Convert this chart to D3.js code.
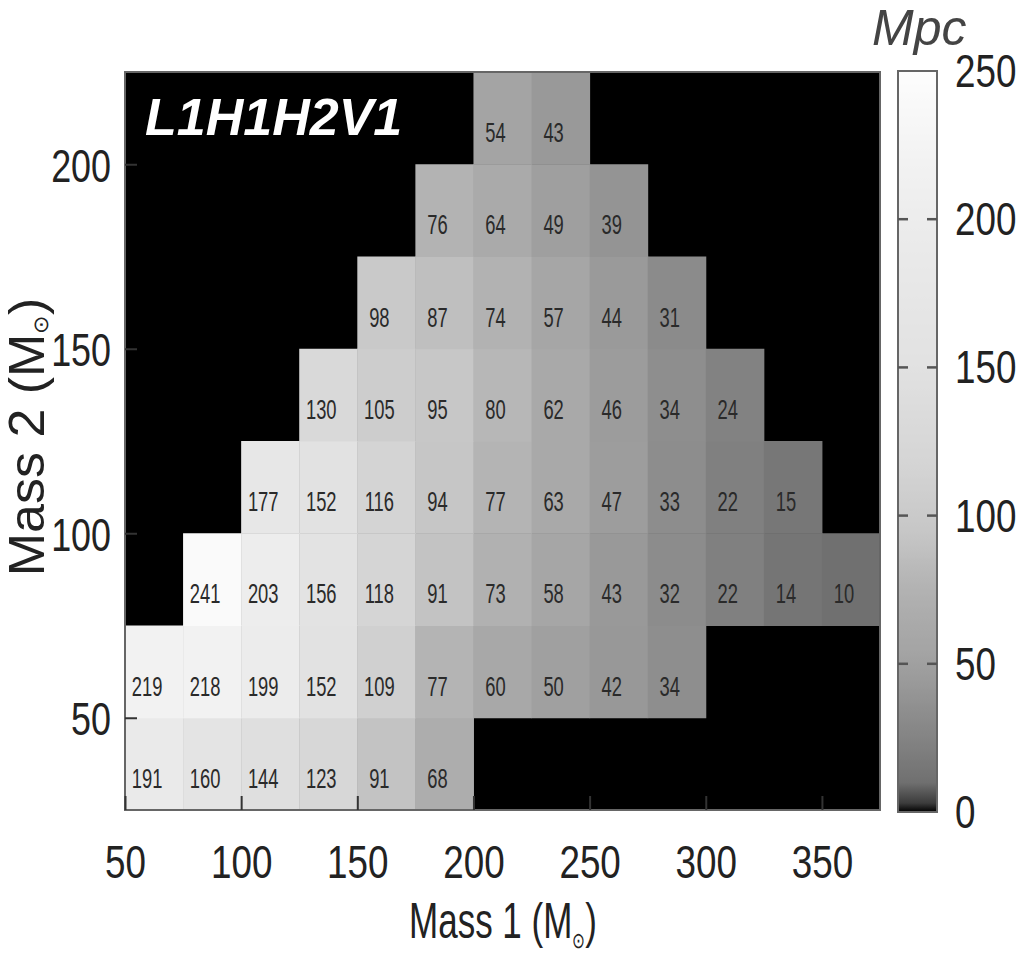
<!DOCTYPE html>
<html><head><meta charset="utf-8">
<script src="https://cdn.jsdelivr.net/npm/d3@7"></script>
<style>body{margin:0;background:#fff} svg{display:block}</style>
</head><body><svg id="c" width="1018" height="953"></svg>
<script>
// ---- data ----
const mass2Rows = [25, 50, 75, 100, 125, 150, 175, 200];      // lower edge of Mass 2 bin
const rowStarts = [50, 50, 75, 100, 125, 150, 175, 200];       // lower edge of first Mass 1 bin in row
const row25  = [191, 160, 144, 123, 91, 68];
const row50  = [219, 218, 199, 152, 109, 77, 60, 50, 42, 34];
const row75  = [241, 203, 156, 118, 91, 73, 58, 43, 32, 22, 14, 10];
const row100 = [177, 152, 116, 94, 77, 63, 47, 33, 22, 15];
const row125 = [130, 105, 95, 80, 62, 46, 34, 24];
const row150 = [98, 87, 74, 57, 44, 31];
const row175 = [76, 64, 49, 39];
const row200 = [54, 43];
const rowValues = [row25, row50, row75, row100, row125, row150, row175, row200];
const binWidth = 25;
const xTicks = [50, 100, 150, 200, 250, 300, 350];
const yTicks = [50, 100, 150, 200];
const cbTicks = [0, 50, 100, 150, 200, 250];
const cbDashTicks = [50, 100, 150, 200];
const chartTitle = "L1H1H2V1";
const unitLabel = "Mpc";

// palette (grey, non-linear)
const palStops = [0, 3, 10, 22, 34, 44, 54, 64, 77, 94, 116, 152, 191, 219, 250];
const palGrey  = [0, 60, 112, 128, 142, 154, 164, 170, 180, 198, 212, 226, 234, 242, 253];

// ---- build cells ----
const cells = [];
rowValues.forEach((vals, i) => {
  vals.forEach((v, j) => {
    cells.push({ m1: rowStarts[i] + j * binWidth, m2: mass2Rows[i], v });
  });
});

const svg = d3.select("#c");
const L = 125, R = 880, T = 72, B = 810;
const x = d3.scaleLinear().domain([50, 375]).range([L, R]);
const y = d3.scaleLinear().domain([25, 225]).range([B, T]);
const greyScale = d3.scaleLinear().domain(palStops).range(palGrey).clamp(true);
const col = v => { const g = Math.round(greyScale(v)); return `rgb(${g},${g},${g})`; };

const SANS = "'Liberation Sans',Arial,Helvetica,sans-serif";

// text with horizontal compression
function sText(parent, px, py, str, size, sx, anchor) {
  return parent.append("text")
    .attr("transform", `translate(${px},${py}) scale(${sx},1)`)
    .attr("text-anchor", anchor || "start")
    .attr("font-family", SANS).attr("font-size", size).attr("fill", "#222")
    .text(str);
}

// plot background
svg.append("rect").attr("x", L).attr("y", T).attr("width", R - L).attr("height", B - T).attr("fill", "#000");

svg.append("g").selectAll("rect").data(cells).join("rect")
  .attr("x", d => x(d.m1)).attr("y", d => y(d.m2 + binWidth))
  .attr("width", d => x(d.m1 + binWidth) - x(d.m1) + 0.5)
  .attr("height", d => y(d.m2) - y(d.m2 + binWidth) + 0.5)
  .attr("fill", d => col(d.v));

svg.append("g").selectAll("text").data(cells).join("text")
  .attr("transform", d => `translate(${x(d.m1 + binWidth / 2) - 7},${y(d.m2 + binWidth / 2) + 24}) scale(0.68,1)`)
  .attr("text-anchor", "middle")
  .attr("font-family", SANS).attr("font-size", 27).attr("fill", "#2a2a2a")
  .text(d => d.v);

// frame
svg.append("rect").attr("x", L).attr("y", T).attr("width", R - L).attr("height", B - T)
  .attr("fill", "none").attr("stroke", "#666").attr("stroke-width", 2);

// ticks (inward)
const xAxis = d3.axisBottom(x).tickValues(xTicks).tickSize(-14).tickFormat(d3.format("d"));
const gx = svg.append("g").attr("transform", `translate(0,${B})`).call(xAxis);
gx.select(".domain").remove();
gx.selectAll("line").attr("stroke", "#333").attr("stroke-width", 2);
gx.selectAll("text")
  .attr("y", null).attr("dy", null)
  .attr("transform", "translate(0,68) scale(0.8,1)")
  .attr("font-family", SANS).attr("font-size", 46).attr("fill", "#222");

const yAxis = d3.axisLeft(y).tickValues(yTicks).tickSize(-12).tickFormat(d3.format("d"));
const gy = svg.append("g").attr("transform", `translate(${L},0)`).call(yAxis);
gy.select(".domain").remove();
gy.selectAll("line").attr("stroke", "#333").attr("stroke-width", 2);
gy.selectAll("text")
  .attr("x", null).attr("dy", null)
  .attr("transform", "translate(-14,17) scale(0.78,1)")
  .attr("font-family", SANS).attr("font-size", 46).attr("fill", "#222");

// axis titles
const xt = sText(svg, 503, 938, "", 50, 0.7, "middle");
xt.append("tspan").text("Mass 1 (M");
xt.append("tspan").attr("font-size", 22).attr("dy", 10).text("⊙");
xt.append("tspan").attr("dy", -10).text(")");

const yt = svg.append("text").attr("transform", "translate(44,437) scale(0.95,1) rotate(-90)")
  .attr("text-anchor", "middle")
  .attr("font-family", SANS).attr("font-size", 52).attr("fill", "#222");
yt.append("tspan").text("Mass 2 (M");
yt.append("tspan").attr("font-size", 22).attr("dy", 4).text("⊙");
yt.append("tspan").attr("dy", -4).text(")");

// title
svg.append("text").attr("x", 145).attr("y", 135)
  .attr("font-family", SANS).attr("font-weight", "bold").attr("font-style", "italic")
  .attr("font-size", 52).attr("fill", "#fff").text(chartTitle);

// colorbar
const CL = 898, CR = 937, CT = 71, CB = 812;
const cy = d3.scaleLinear().domain([0, 250]).range([CB, CT]);
const defs = svg.append("defs");
const grad = defs.append("linearGradient").attr("id", "cbg").attr("x1", 0).attr("y1", 1).attr("x2", 0).attr("y2", 0);
d3.range(0, 251, 1).forEach(v => {
  grad.append("stop").attr("offset", v / 250).attr("stop-color", col(v));
});
svg.append("rect").attr("x", CL).attr("y", CT).attr("width", CR - CL).attr("height", CB - CT)
  .attr("fill", "url(#cbg)").attr("stroke", "#666").attr("stroke-width", 2);
svg.append("g").selectAll("line").data(cbDashTicks).join("line")
  .attr("x1", CL).attr("x2", CL + 10).attr("y1", d => cy(d)).attr("y2", d => cy(d))
  .attr("stroke", "#555").attr("stroke-width", 2.5);
svg.append("g").selectAll("line").data(cbDashTicks).join("line")
  .attr("x1", CR - 10).attr("x2", CR).attr("y1", d => cy(d)).attr("y2", d => cy(d))
  .attr("stroke", "#555").attr("stroke-width", 2.5);
const cbg = svg.append("g");
cbTicks.forEach(t => sText(cbg, 955, cy(t) + 16, t, 46, 0.8, "start"));

svg.append("text").attr("x", 872).attr("y", 45)
  .attr("font-family", SANS).attr("font-style", "italic").attr("font-size", 50)
  .attr("fill", "#444").text(unitLabel);
</script>
</body></html>
